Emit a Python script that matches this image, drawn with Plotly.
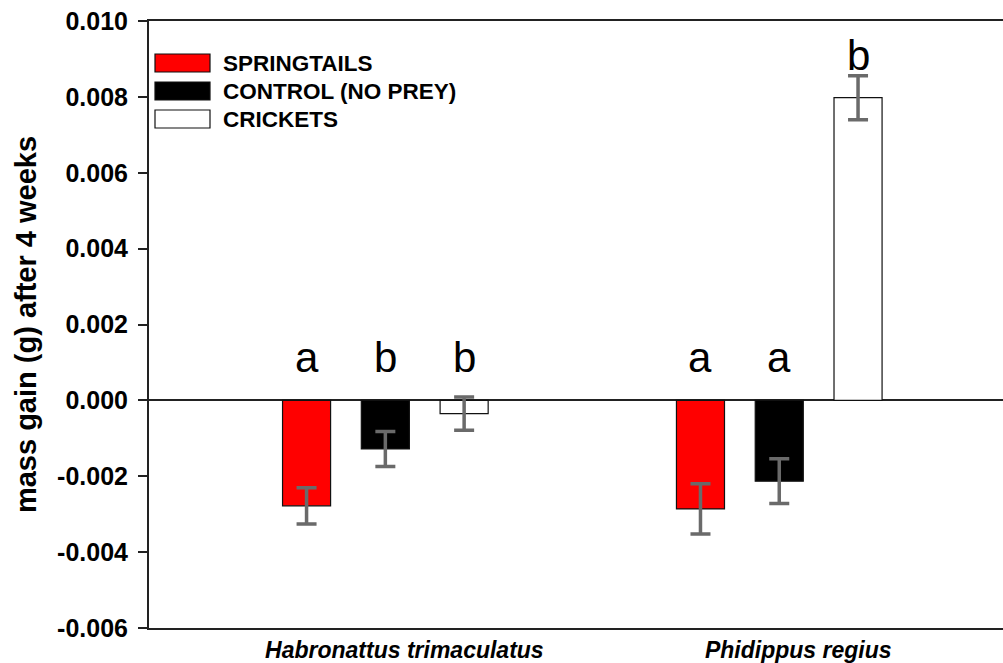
import plotly.graph_objects as go

species = ["Habronattus trimaculatus", "Phidippus regius"]
treatments = ["SPRINGTAILS", "CONTROL (NO PREY)", "CRICKETS"]
colors = ["#ff0000", "#000000", "#ffffff"]

# mean mass gain (g) per treatment, in species order
springtails = [-0.00278, -0.00286]
control = [-0.00128, -0.00213]
crickets = [-0.00035, 0.00798]
# standard errors
springtails_err = [0.00048, 0.00066]
control_err = [0.00046, 0.00059]
crickets_err = [0.00044, 0.00058]
# significance letters
springtails_letters = ["a", "a"]
control_letters = ["b", "a"]
crickets_letters = ["b", "b"]

ytick_vals = [-0.006, -0.004, -0.002, 0.000, 0.002, 0.004, 0.006, 0.008, 0.010]
ytick_text = ["-0.006", "-0.004", "-0.002", "0.000", "0.002", "0.004", "0.006", "0.008", "0.010"]

values = [springtails, control, crickets]
errors = [springtails_err, control_err, crickets_err]
letters = [springtails_letters, control_letters, crickets_letters]

FONT = "Arial, Liberation Sans, sans-serif"
W, H = 1003, 663
ML, MR, MT, MB = 149, 0, 21, 35
BARGAP, GROUPGAP = 0.4, 0.39

xpos = list(range(len(species)))
fig = go.Figure()
for i, t in enumerate(treatments):
    fig.add_trace(go.Bar(
        x=xpos, y=values[i], name=t,
        marker=dict(color=colors[i], line=dict(color="#111111", width=1.2)),
        error_y=dict(type="data", array=errors[i], color="#6a6a6a",
                     thickness=3.5, width=10),
        showlegend=False,
    ))

# significance letters above each bar
slot = (1 - BARGAP) / len(treatments)
for i in range(len(treatments)):
    for j in range(len(species)):
        xc = xpos[j] + (i - (len(treatments) - 1) / 2) * slot
        fig.add_annotation(
            x=xc, y=max(values[i][j], 0), xref="x", yref="y",
            text=letters[i][j], showarrow=False, yanchor="bottom",
            yshift=17, font=dict(family=FONT, size=42, color="#000000"),
        )

# custom legend (wide rectangular keys)
pw = W - ML - MR
ph = H - MT - MB
row_y = [63, 91, 119]
for k, t in enumerate(treatments):
    cy = row_y[k]
    fig.add_shape(type="rect", xref="paper", yref="paper",
                  x0=(155 - ML) / pw, x1=(210 - ML) / pw,
                  y0=(H - MB - (cy + 9)) / ph, y1=(H - MB - (cy - 9)) / ph,
                  fillcolor=colors[k], line=dict(color="#111111", width=1.2))
    fig.add_annotation(xref="paper", yref="paper",
                       x=(221 - ML) / pw, y=(H - MB - cy) / ph,
                       xanchor="left", yanchor="middle", showarrow=False,
                       text="<b>%s</b>" % t,
                       font=dict(family=FONT, size=22.5, color="#000000"))

fig.update_layout(
    width=W, height=H,
    margin=dict(l=ML, r=MR, t=MT, b=MB, autoexpand=False),
    paper_bgcolor="white", plot_bgcolor="white",
    barmode="group", bargap=BARGAP, bargroupgap=GROUPGAP,
    font=dict(family=FONT, color="#000000"),
)
fig.update_xaxes(
    range=[-0.6, 1.568], automargin=False,
    tickvals=xpos, ticktext=["<b><i>%s</i></b>" % s for s in species],
    ticks="", ticklabelshift=19, ticklabelstandoff=0,
    tickfont=dict(family=FONT, size=23, color="#000000"),
    showline=True, linecolor="#222222", linewidth=2, mirror=True,
    showgrid=False, zeroline=False,
)
fig.update_yaxes(
    range=[-0.006, 0.010], automargin=False,
    tickvals=ytick_vals, ticktext=["<b>%s</b>" % s for s in ytick_text],
    ticks="outside", ticklen=9, tickwidth=1.5, tickcolor="#222222",
    ticklabelstandoff=5,
    tickfont=dict(family=FONT, size=25, color="#000000"),
    showline=True, linecolor="#222222", linewidth=2, mirror=False,
    showgrid=False,
    zeroline=True, zerolinecolor="#222222", zerolinewidth=1.5,
    title=dict(text="<b>mass gain (g) after 4 weeks</b>", standoff=12,
               font=dict(family=FONT, size=29, color="#000000")),
)

fig.write_html("out.html", config={"displayModeBar": False},
               post_script="document.body.style.margin='0';document.body.style.padding='0';")
